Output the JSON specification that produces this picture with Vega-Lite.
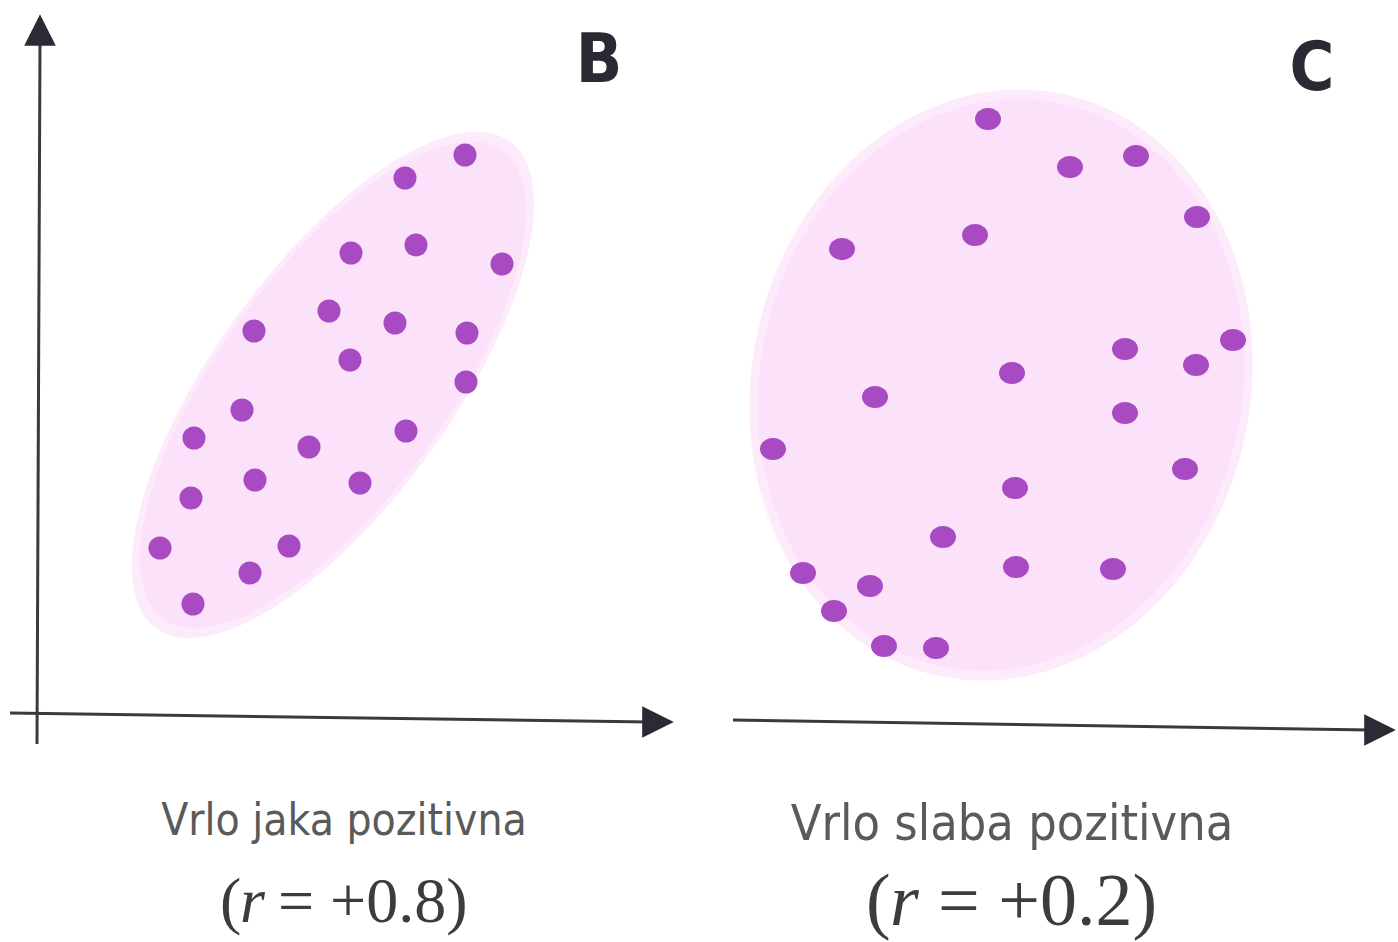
{
  "$schema": "https://vega.github.io/schema/vega-lite/v6.json",
  "width": 1398,
  "height": 942,
  "autosize": {"type": "fit", "contains": "padding"},
  "padding": 0,
  "background": "white",
  "config": {"view": {"stroke": null}},
  "datasets": {
    "clouds": [
      {"panel": "B", "x": 333, "y": 385},
      {"panel": "C", "x": 1001, "y": 385}
    ],
    "dotsB": [
      {"x": 465, "y": 155}, {"x": 405, "y": 178}, {"x": 351, "y": 253}, {"x": 416, "y": 245},
      {"x": 502, "y": 264}, {"x": 254, "y": 331}, {"x": 329, "y": 311}, {"x": 395, "y": 323},
      {"x": 467, "y": 333}, {"x": 350, "y": 360}, {"x": 466, "y": 382}, {"x": 242, "y": 410},
      {"x": 194, "y": 438}, {"x": 309, "y": 447}, {"x": 406, "y": 431}, {"x": 255, "y": 480},
      {"x": 360, "y": 483}, {"x": 191, "y": 498}, {"x": 160, "y": 548}, {"x": 289, "y": 546},
      {"x": 250, "y": 573}, {"x": 193, "y": 604}
    ],
    "dotsC": [
      {"x": 988, "y": 119}, {"x": 1070, "y": 167}, {"x": 1136, "y": 156}, {"x": 1197, "y": 217},
      {"x": 975, "y": 235}, {"x": 842, "y": 249}, {"x": 1233, "y": 340}, {"x": 1125, "y": 349},
      {"x": 1196, "y": 365}, {"x": 1012, "y": 373}, {"x": 875, "y": 397}, {"x": 1125, "y": 413},
      {"x": 773, "y": 449}, {"x": 1185, "y": 469}, {"x": 1015, "y": 488}, {"x": 943, "y": 537},
      {"x": 803, "y": 573}, {"x": 870, "y": 586}, {"x": 1016, "y": 567}, {"x": 1113, "y": 569},
      {"x": 834, "y": 611}, {"x": 884, "y": 646}, {"x": 936, "y": 648}
    ],
    "axes": [
      {"x": 40, "y": 42, "x2": 37, "y2": 744},
      {"x": 10, "y": 713, "x2": 650, "y2": 722},
      {"x": 733, "y": 720, "x2": 1370, "y2": 730}
    ],
    "heads": [
      {"x": 40, "y": 30, "dir": "up"},
      {"x": 658, "y": 722, "dir": "right"},
      {"x": 1380, "y": 730, "dir": "right"}
    ],
    "labels": [
      {"id": "titleB", "x": 599, "y": 82, "text": "B"},
      {"id": "titleC", "x": 1312, "y": 90, "text": "C"},
      {"id": "descB", "x": 344, "y": 835, "text": "Vrlo jaka pozitivna"},
      {"id": "descC", "x": 1012, "y": 840, "text": "Vrlo slaba pozitivna"},
      {"id": "parB", "x": 220, "y": 922, "text": "("},
      {"id": "rB", "x": 240, "y": 922, "text": "r"},
      {"id": "valB", "x": 278, "y": 922, "text": "= +0.8)"},
      {"id": "parC", "x": 866, "y": 925, "text": "("},
      {"id": "rC", "x": 890, "y": 925, "text": "r"},
      {"id": "valC", "x": 938, "y": 925, "text": "= +0.2)"}
    ]
  },
  "encoding": {
    "x": {"field": "x", "type": "quantitative", "scale": {"domain": [0, 1398], "nice": false, "zero": false}, "axis": null},
    "y": {"field": "y", "type": "quantitative", "scale": {"domain": [0, 942], "nice": false, "zero": false, "reverse": true}, "axis": null}
  },
  "layer": [
    {
      "data": {"name": "clouds"},
      "transform": [{"filter": "datum.panel === 'B'"}],
      "mark": {"type": "point", "filled": true, "shape": "M-1,0A1,0.393,0,1,0,1,0A1,0.393,0,1,0,-1,0Z", "size": 362000, "angle": -54, "color": "#fdebfc", "opacity": 1, "strokeWidth": 0}
    },
    {
      "data": {"name": "clouds"},
      "transform": [{"filter": "datum.panel === 'B'"}],
      "mark": {"type": "point", "filled": true, "shape": "M-1,0A1,0.393,0,1,0,1,0A1,0.393,0,1,0,-1,0Z", "size": 334000, "angle": -54, "color": "#fce1fa", "opacity": 1, "strokeWidth": 0}
    },
    {
      "data": {"name": "clouds"},
      "transform": [{"filter": "datum.panel === 'C'"}],
      "mark": {"type": "point", "filled": true, "shape": "M-1,0A1,0.838,0,1,0,1,0A1,0.838,0,1,0,-1,0Z", "size": 354000, "angle": -78, "color": "#fdebfc", "opacity": 1, "strokeWidth": 0}
    },
    {
      "data": {"name": "clouds"},
      "transform": [{"filter": "datum.panel === 'C'"}],
      "mark": {"type": "point", "filled": true, "shape": "M-1,0A1,0.838,0,1,0,1,0A1,0.838,0,1,0,-1,0Z", "size": 331000, "angle": -78, "color": "#fce1fa", "opacity": 1, "strokeWidth": 0}
    },
    {
      "data": {"name": "dotsB"},
      "mark": {"type": "point", "filled": true, "shape": "circle", "size": 529, "color": "#a84bc2", "opacity": 1, "strokeWidth": 0}
    },
    {
      "data": {"name": "dotsC"},
      "mark": {"type": "point", "filled": true, "shape": "M-1,0A1,0.85,0,1,0,1,0A1,0.85,0,1,0,-1,0Z", "size": 676, "color": "#a84bc2", "opacity": 1, "strokeWidth": 0}
    },
    {
      "data": {"name": "axes"},
      "mark": {"type": "rule", "color": "#3a3a3a", "strokeWidth": 3},
      "encoding": {
        "x2": {"field": "x2"},
        "y2": {"field": "y2"}
      }
    },
    {
      "data": {"name": "heads"},
      "mark": {"type": "point", "filled": true, "size": 1000, "color": "#2b2b36", "opacity": 1, "strokeWidth": 0},
      "encoding": {
        "shape": {"field": "dir", "type": "nominal", "scale": {"domain": ["up", "right"], "range": ["M0,-1L1,1L-1,1Z", "M1,0L-1,-1L-1,1Z"]}, "legend": null}
      }
    },
    {
      "data": {"name": "labels"},
      "transform": [{"filter": "datum.id === 'titleB' || datum.id === 'titleC'"}],
      "mark": {"type": "text", "align": "center", "baseline": "alphabetic", "font": "DejaVu Sans Condensed, Liberation Sans Narrow, Liberation Sans, sans-serif", "fontWeight": "bold", "fontSize": 68, "color": "#2a2a35"},
      "encoding": {"text": {"field": "text"}}
    },
    {
      "data": {"name": "labels"},
      "transform": [{"filter": "datum.id === 'descB'"}],
      "mark": {"type": "text", "align": "center", "baseline": "alphabetic", "font": "DejaVu Sans Condensed, Liberation Sans Narrow, Liberation Sans, sans-serif", "fontSize": 44, "color": "#5a5a5a"},
      "encoding": {"text": {"field": "text"}}
    },
    {
      "data": {"name": "labels"},
      "transform": [{"filter": "datum.id === 'descC'"}],
      "mark": {"type": "text", "align": "center", "baseline": "alphabetic", "font": "DejaVu Sans Condensed, Liberation Sans Narrow, Liberation Sans, sans-serif", "fontSize": 50, "color": "#5a5a5a"},
      "encoding": {"text": {"field": "text"}}
    },
    {
      "data": {"name": "labels"},
      "transform": [{"filter": "datum.id === 'parB' || datum.id === 'valB'"}],
      "mark": {"type": "text", "align": "left", "baseline": "alphabetic", "font": "Liberation Serif, DejaVu Serif, serif", "fontSize": 64, "color": "#3c3c3c"},
      "encoding": {"text": {"field": "text"}}
    },
    {
      "data": {"name": "labels"},
      "transform": [{"filter": "datum.id === 'rB'"}],
      "mark": {"type": "text", "align": "left", "baseline": "alphabetic", "font": "Liberation Serif, DejaVu Serif, serif", "fontStyle": "italic", "fontSize": 64, "color": "#3c3c3c"},
      "encoding": {"text": {"field": "text"}}
    },
    {
      "data": {"name": "labels"},
      "transform": [{"filter": "datum.id === 'parC' || datum.id === 'valC'"}],
      "mark": {"type": "text", "align": "left", "baseline": "alphabetic", "font": "Liberation Serif, DejaVu Serif, serif", "fontSize": 74, "color": "#3c3c3c"},
      "encoding": {"text": {"field": "text"}}
    },
    {
      "data": {"name": "labels"},
      "transform": [{"filter": "datum.id === 'rC'"}],
      "mark": {"type": "text", "align": "left", "baseline": "alphabetic", "font": "Liberation Serif, DejaVu Serif, serif", "fontStyle": "italic", "fontSize": 74, "color": "#3c3c3c"},
      "encoding": {"text": {"field": "text"}}
    }
  ]
}
